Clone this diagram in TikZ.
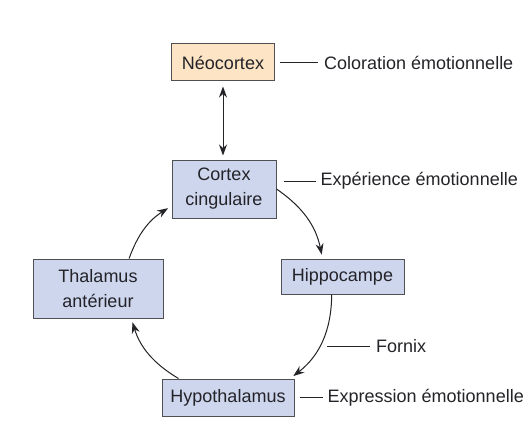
\documentclass[tikz,border=0pt]{standalone}
\usepackage{fontspec}
\setmainfont{Liberation Sans}
\usetikzlibrary{arrows.meta,positioning}
\definecolor{boxblue}{RGB}{206,214,238}
\definecolor{boxpeach}{RGB}{252,228,196}
\definecolor{edgegray}{RGB}{80,80,84}
\definecolor{inkgray}{RGB}{35,35,40}

\begin{document}
\begin{tikzpicture}[
    x=1pt, y=1pt,
    node distance=40pt,
    box/.style={rectangle, draw=edgegray, line width=1pt, fill=boxblue, inner sep=0pt, align=center, text=inkgray, font=\fontsize{18}{25}\selectfont},
    lab/.style={inner sep=0pt, anchor=west, text=inkgray, font=\fontsize{18}{22}\selectfont},
    arrow/.style={-{Stealth[length=11pt,width=8pt]}, draw=inkgray, line width=1pt, shorten >=4pt},
    tick/.style={draw=inkgray, line width=0.8pt}
]
\useasboundingbox (0,0) rectangle (525,-444);

% Nodes
\node[box, fill=boxpeach, minimum width=103pt, minimum height=37pt] (neo) at (223,-62.5) {Néocortex};
\node[box, minimum width=104pt, minimum height=58pt] (cortex) at (224,-189) {Cortex\\cingulaire};
\node[box, minimum width=123pt, minimum height=35pt] (hippo) at (342.5,-276.5) {Hippocampe};
\node[box, minimum width=130pt, minimum height=59pt] (thal) at (98,-288.5) {Thalamus\\antérieur};
\node[box, minimum width=132pt, minimum height=37pt] (hypo) at (228,-397.5) {Hypothalamus};

% Labels
\node[lab, right=49pt of neo] (colo) {Coloration émotionnelle};
\node[lab, right=44pt of cortex, yshift=8pt] (expe) {Expérience émotionnelle};
\node[lab, right=33pt of hypo] (expr) {Expression émotionnelle};
\node[lab] (forn) at (376,-346) {Fornix};
\coordinate (fx) at (327,-346);

% Arrows
\draw[arrow, {Stealth[length=11pt,width=8pt]}-{Stealth[length=11pt,width=8pt]}, shorten <=5pt] (neo.south) -- (neo.south |- cortex.north);
\draw[arrow] (cortex.east) to[bend left=22] (hippo.138);
\draw[arrow] (hippo.239) to[bend left=26] (hypo.17);
\draw[arrow] (hypo.159) to[bend left=21] (thal.-42);
\draw[arrow] (thal.44) to[bend left=19] (cortex.198);

% Label lines
\draw[tick, shorten <=5pt, shorten >=6pt] (neo) -- (colo);
\draw[tick, shorten <=7pt, shorten >=5pt] (cortex.east |- expe.west) -- (expe.west);
\draw[tick, shorten <=5pt, shorten >=5pt] (hypo) -- (expr);
\draw[tick] (fx) -- ([xshift=-6pt]forn.west);

\end{tikzpicture}
\end{document}
